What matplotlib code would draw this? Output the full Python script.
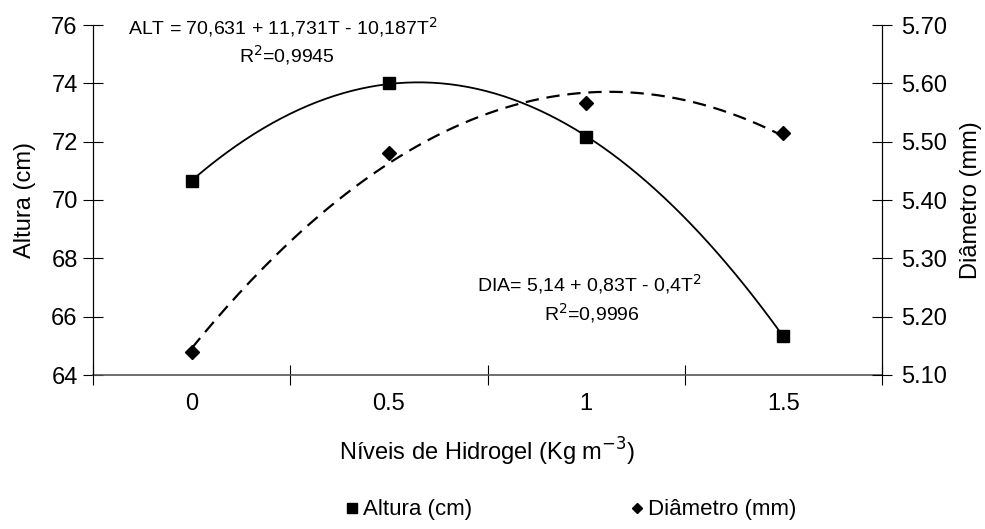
import numpy as np
import matplotlib.pyplot as plt
from matplotlib.lines import Line2D

plt.rcParams['font.family'] = ['Liberation Sans', 'DejaVu Sans']

# data
niveis = [0, 0.5, 1, 1.5]
niveis_labels = ["0", "0.5", "1", "1.5"]
altura = [70.65, 74.02, 72.15, 65.33]
diametro = [5.14, 5.48, 5.567, 5.515]

x = np.array(niveis)
xs = np.linspace(x[0], x[-1], 200)
fit_alt = np.polyval(np.polyfit(x, altura, 2), xs)
fit_dia = np.polyval(np.polyfit(x, diametro, 2), xs)

fig = plt.figure(figsize=(9.85, 5.29), dpi=100)
ax = fig.add_axes([93/985, 1-375/529, (882-93)/985, 350/529])
ax2 = ax.twinx()

# altura (left axis)
ax.plot(xs, fit_alt, color='black', lw=1.3)
ax.plot(x, altura, 's', color='black', ms=8.5, zorder=5)

# diametro (right axis)
ax2.plot(xs, fit_dia, color='black', lw=1.6, dashes=(6, 3.5))
ax2.plot(x, diametro, 'D', color='black', ms=7.5, zorder=5)

ax.set_xlim(-0.25, 1.75)
ax.set_ylim(64, 76)
ax2.set_ylim(5.10, 5.70)
ax.set_yticks(np.arange(64, 77, 2))
ax2.set_yticks(np.arange(5.10, 5.71, 0.10))
ax2.set_yticklabels(["%.2f" % v for v in np.arange(5.10, 5.71, 0.10)])

ax.set_xticks(niveis)
ax.set_xticklabels(niveis_labels)
ax.set_xticks([-0.25, 0.25, 0.75, 1.25, 1.75], minor=True)
ax.tick_params(axis='x', which='major', length=0, labelsize=17, pad=13)
ax.tick_params(axis='x', which='minor', length=15, direction='inout', width=0.8)
ax.tick_params(axis='y', length=14, direction='inout', width=0.8, labelsize=17, pad=4)
ax2.tick_params(axis='y', length=14, direction='inout', width=0.8, labelsize=17, pad=7)

for a in (ax, ax2):
    a.spines['top'].set_visible(False)
ax.spines['bottom'].set_color('#555555')
ax.spines['bottom'].set_linewidth(1.2)
ax2.spines['bottom'].set_visible(False)

ax.set_ylabel("Altura (cm)", fontsize=17, labelpad=11)
ax2.set_ylabel("Diâmetro (mm)", fontsize=17, labelpad=9)
ax.set_xlabel("Níveis de Hidrogel (Kg m$^{-3}$)", fontsize=17, labelpad=15)

# regression equations
fig.text(128/985, 1-27/529, "ALT = 70,631 + 11,731T - 10,187T$^{2}$", fontsize=14,
         ha='left', va='center')
fig.text(287/985, 1-55/529, "R$^{2}$=0,9945", fontsize=14, ha='center', va='center')
fig.text(590/985, 1-284/529, "DIA= 5,14 + 0,83T - 0,4T$^{2}$", fontsize=14,
         ha='center', va='center')
fig.text(592/985, 1-313/529, "R$^{2}$=0,9996", fontsize=14, ha='center', va='center')

handles = [Line2D([], [], marker='s', color='black', ls='none', ms=6.5),
           Line2D([], [], marker='D', color='black', ls='none', ms=5.5)]
fig.legend(handles, ["Altura (cm)", "Diâmetro (mm)"], loc='center',
           bbox_to_anchor=(570/985, 1-510/529), ncol=2, frameon=False,
           fontsize=16, handletextpad=0.1, columnspacing=7, handlelength=0.8)

fig.savefig("out.png", dpi=100)
